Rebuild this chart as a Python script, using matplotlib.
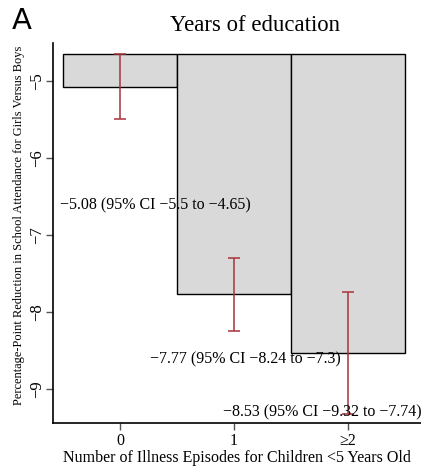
import numpy as np
import matplotlib
matplotlib.use("Agg")
import matplotlib.pyplot as plt

# --- data ---
categories = ["0", "1", "\u22652"]
means = [-5.08, -7.77, -8.53]
ci_low = [-5.5, -8.24, -9.32]
ci_high = [-4.65, -7.3, -7.74]
ci_text = ["\u22125.5 to \u22124.65", "\u22128.24 to \u22127.3", "\u22129.32 to \u22127.74"]
bar_top = -4.65

plt.rcParams["font.family"] = ["Liberation Serif", "DejaVu Serif"]

fig = plt.figure(figsize=(4.21, 4.69), dpi=100)
# axes: bottom spine at y=423px, top at y=43px, left spine x=53px
ax = fig.add_axes([0.1259, 0.0981, 0.8741, 0.810])

x = np.arange(len(categories))
heights = [m - bar_top for m in means]
ax.bar(x, heights, bottom=bar_top, width=1.0, color="#d9d9d9",
       edgecolor="black", linewidth=1.0, zorder=1)

err = [np.array(means) - np.array(ci_low), np.array(ci_high) - np.array(means)]
ax.errorbar(x, means, yerr=err, fmt="none", ecolor="#a8323a",
            elinewidth=1.1, capsize=4, capthick=1.1, zorder=3)

# labels placed next to each bar
label_pos = [(-0.53, -6.61), (0.26, -8.61), (0.90, -9.30)]
for (lx, ly), m, ci in zip(label_pos, means, ci_text):
    txt = f"{m:g} (95% CI {ci})".replace("-", "\u2212")
    ax.text(lx, ly, txt, ha="left", va="center", fontsize=11.5, zorder=4)

ax.set_xlim(-0.588, 2.64)
ax.set_ylim(-9.44, -4.51)
ax.set_xticks(x)
ax.set_xticklabels(categories, fontsize=11.5)
ax.set_yticks([-9, -8, -7, -6, -5])
ax.set_yticklabels(["\u22129", "\u22128", "\u22127", "\u22126", "\u22125"],
                   rotation=90, va="center", fontsize=12)
ax.tick_params(axis="both", length=5, color="#555555", width=1)
ax.tick_params(axis="y", pad=1)
ax.tick_params(axis="x", pad=2)
ax.spines["top"].set_visible(False)
ax.spines["right"].set_visible(False)
ax.spines["left"].set_linewidth(1.2)
ax.spines["bottom"].set_linewidth(1.2)

ax.set_xlabel("Number of Illness Episodes for Children <5 Years Old",
              fontsize=11.5, labelpad=1)
ax.set_ylabel("Percentage-Point Reduction in School Attendance for Girls Versus Boys",
              fontsize=8.95)
ax.yaxis.set_label_coords(-0.076, 0.52)

fig.text(0.606, 0.945, "Years of education", ha="center", va="center", fontsize=16.4)
fig.text(0.028, 0.956, "A", ha="left", va="center", fontsize=21,
         family="DejaVu Sans")

fig.savefig("out.png", dpi=100)
